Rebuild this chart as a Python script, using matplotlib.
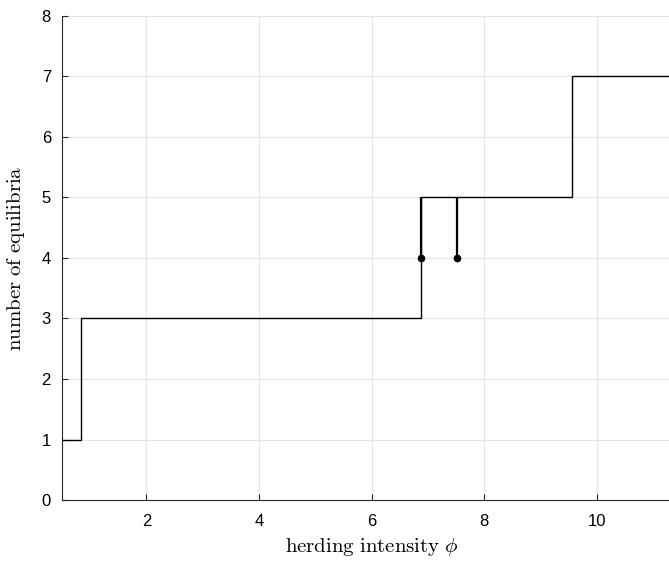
import numpy as np
import matplotlib
matplotlib.use("Agg")
import matplotlib.pyplot as plt

# step function: number of equilibria vs herding intensity
phi_edges = [0.5, 0.83, 6.87, 9.56, 11.28]
n_equilibria = [1, 3, 5, 7]

# isolated points (bifurcations) with 4 equilibria
phi_points = [6.87, 7.51]
n_points = [4, 4]
stem_top = 5

x_ticks = [2, 4, 6, 8, 10]
y_ticks = [0, 1, 2, 3, 4, 5, 6, 7, 8]

plt.rcParams['mathtext.fontset'] = 'cm'
plt.rcParams['font.family'] = ['Liberation Sans', 'DejaVu Sans']

fig = plt.figure(figsize=(6.69, 5.61), dpi=100)
ax = fig.add_axes([0.0927, 0.1087, 1 - 0.0927, 0.863])

# build step line from edges
xs, ys = [], []
for i, n in enumerate(n_equilibria):
    xs += [phi_edges[i], phi_edges[i + 1]]
    ys += [n, n]
ax.plot(xs, ys, color='black', lw=1.0, solid_joinstyle='miter', zorder=3)

for p, n in zip(phi_points, n_points):
    ax.plot([p, p], [n, stem_top], color='black', lw=1.6,
            solid_capstyle='butt', zorder=3)
ax.plot(phi_points, n_points, 'o', color='black', ms=4.5, zorder=4)

ax.set_xlim(phi_edges[0], phi_edges[-1])
ax.set_ylim(0, 8)
ax.set_xticks(x_ticks)
ax.set_yticks(y_ticks)

ax.grid(True, color='#e3e3e3', lw=0.8)
ax.set_axisbelow(True)
ax.spines['top'].set_visible(False)
ax.spines['right'].set_visible(False)
for s in ['left', 'bottom']:
    ax.spines[s].set_color('#262626')
    ax.spines[s].set_linewidth(0.8)
ax.tick_params(direction='in', length=4.5, width=0.8, colors='#262626',
               labelsize=12, labelcolor='black')
ax.tick_params(axis='x', pad=10)
ax.tick_params(axis='y', pad=8)

ax.set_xlabel(r'$\mathrm{herding\ intensity}\ \phi$', fontsize=15, labelpad=4)
ax.xaxis.set_label_coords(0.511, -0.075)
ax.set_ylabel(r'$\mathrm{number\ of\ equilibria}$', fontsize=15)
ax.yaxis.set_label_coords(-0.058, 0.5)

fig.savefig('out.png', dpi=100)
